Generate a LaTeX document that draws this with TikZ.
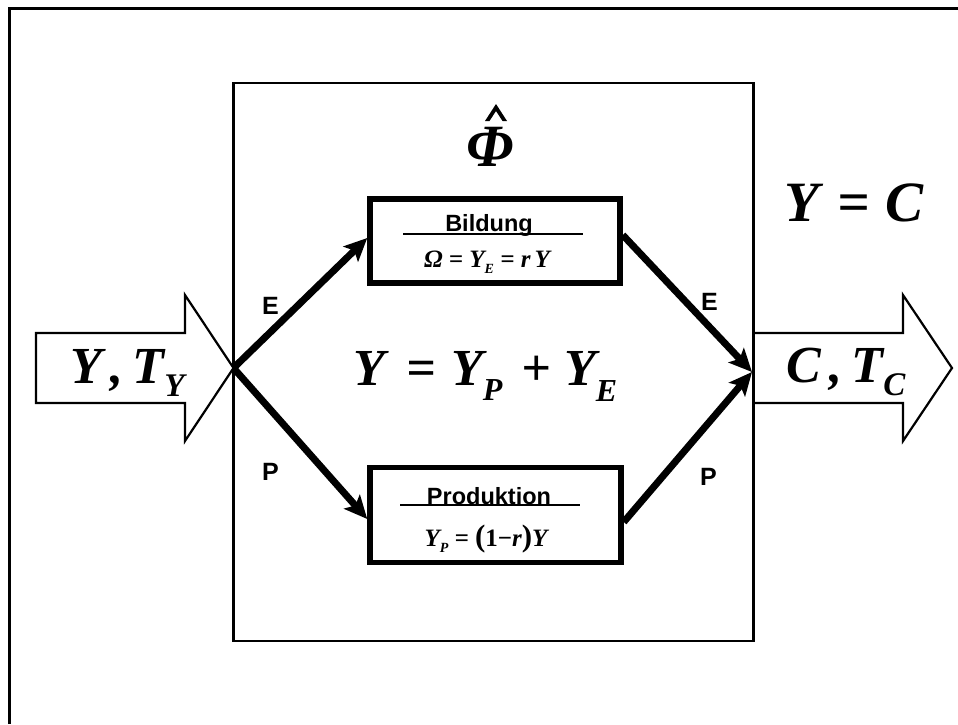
\documentclass[tikz,border=0pt]{standalone}
\usepackage{fontspec}
\usepackage{graphicx}
\setmainfont{Liberation Serif}
\newfontfamily\lsans{Liberation Sans}
\usetikzlibrary{arrows.meta}
\newcommand\fs[1]{\fontsize{#1}{#1}\selectfont}
\newcommand\dn[3]{\raisebox{-#1pt}{\fs{#2}#3}}
\tikzset{
  frame/.style={line width=3pt},
  bigbox/.style={draw, line width=2.7pt, inner sep=0pt},
  stage/.style={draw, line width=5.5pt, inner sep=0pt, fill=white},
  blockarrow/.style={draw, line width=2.2pt, fill=white, line join=miter},
  flow/.style={line width=7pt, -{Stealth[length=23pt,width=21pt,inset=5pt]}},
  lbl/.style={inner sep=0pt, font=\lsans\bfseries\fs{25}},
  boxtitle/.style={inner sep=0pt, font=\lsans\bfseries\fs{23.5}},
  formula/.style={inner sep=0pt, font=\bfseries\itshape},
  rule/.style={line width=1.3pt}
}
\begin{document}
\begin{tikzpicture}[x=1pt,y=-1pt]
\useasboundingbox (0,0) rectangle (958,724);
% outer frame (cut off at right and bottom)
\draw[frame] (9.7,724) -- (9.7,8) -- (958,8);
% block arrows
\draw[blockarrow] (36,333) -- (185,333) -- (185,295) -- (233.5,368) -- (185,441) -- (185,403) -- (36,403) -- cycle;
\draw[blockarrow] (753.5,333) -- (903,333) -- (903,295) -- (952,368) -- (903,441) -- (903,403) -- (753.5,403) -- cycle;
% inner box
\node[bigbox, minimum width=520pt, minimum height=558pt] (inner) at (493.5,362) {};
% stage boxes
\node[stage, minimum width=250pt, minimum height=84pt] (bild) at (495,241) {};
\node[stage, minimum width=251pt, minimum height=95pt] (prod) at (495.5,515) {};
% in / out points
\coordinate (in) at (233.5,368);
\coordinate (out) at (752,372);
% flows
\draw[flow] (in) -- ([yshift=3pt]bild.west);
\draw[flow] (in) -- ([yshift=-4pt]prod.west);
\draw[flow] ([yshift=6pt]bild.east) -- (out);
\draw[flow] ([yshift=-7pt]prod.east) -- (out);
% box contents
\node[boxtitle, anchor=base] (bt) at (489,231) {Bildung};
\draw[rule] (403,234) -- (583,234);
\node[formula, anchor=base] (bf) at (487,267) {\fs{25}Ω = Y\dn{6}{14}{E} = r\,Y};
\node[boxtitle, anchor=base] (pt) at (489,504) {Produktion};
\draw[rule] (400,505) -- (580,505);
\node[formula, anchor=base] (pf) at (486,546) {\fs{25}Y\dn{6}{14}{P} = \upshape{\fs{31}(}1−\itshape r\upshape{\fs{31})}\itshape Y};
% path labels
\node[lbl, anchor=base west] (e1) at (262,314) {E};
\node[lbl, anchor=base west] (e2) at (701,310) {E};
\node[lbl, anchor=base west] (p1) at (262,480) {P};
\node[lbl, anchor=base west] (p2) at (700,485) {P};
% formulas
\node[formula, anchor=base] (phi) at (490,166) {\fs{60}Φ};
\fill (485,121) -- (496,104) -- (507,121) -- (502.5,121) -- (496,111) -- (489.5,121) -- cycle;
\node[formula, anchor=base] (yc) at (854,221) {\fs{57}Y\hspace{4pt} = \hspace{2pt}C};
\node[formula, anchor=base] (main) at (485.5,385) {\fs{52}Y\hspace{8pt} = \hspace{2pt}Y\dn{15}{32}{P}\hspace{6pt} + Y\dn{16}{32}{E}};
\node[formula, anchor=base] (lin) at (127.5,383) {\fs{52}Y\,,\,T\dn{13}{33}{Y}};
\node[formula, anchor=base] (rin) at (846,382) {\fs{52}C\,,\,T\dn{13}{33}{C}};
\end{tikzpicture}
\end{document}
